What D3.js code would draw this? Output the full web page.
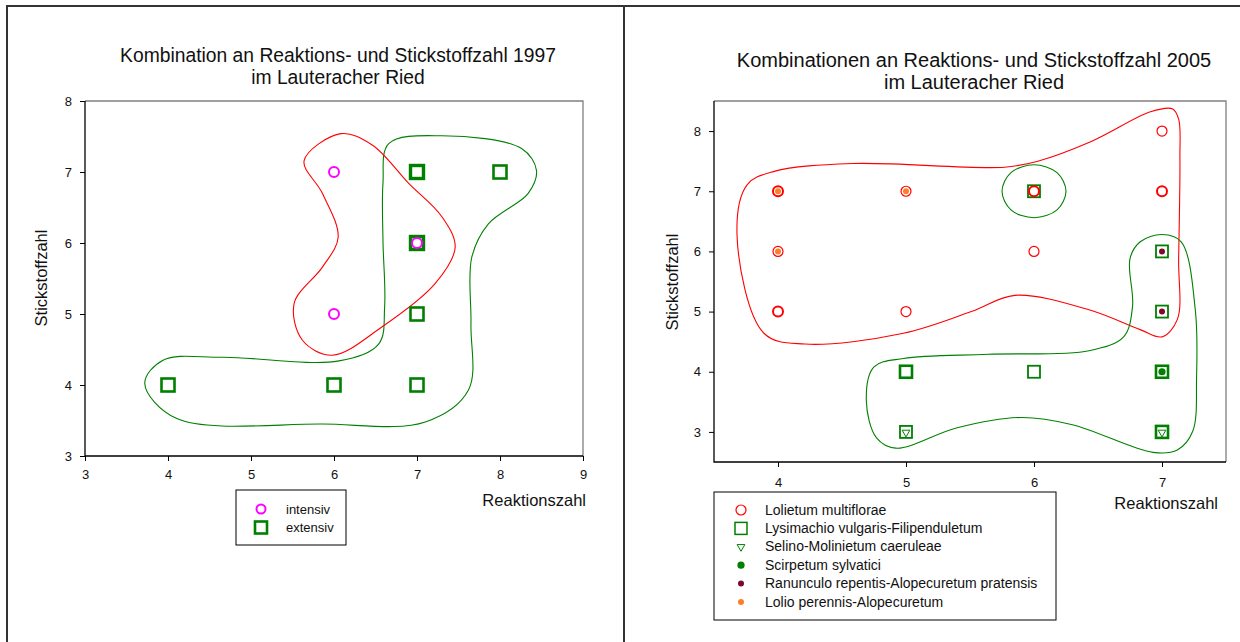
<!DOCTYPE html>
<html>
<head>
<meta charset="utf-8">
<script src="https://cdn.jsdelivr.net/npm/d3@7"></script>
<style>
  body { margin: 0; background: #fff; }
  svg { display: block; font-family: "Liberation Sans", Arial, sans-serif; }
</style>
</head>
<body>
<div id="chart"></div>
<script>
// ---- 1997 ----
var intensiv1997 = [[6, 7], [6, 5], [7, 6]];
var extensiv1997 = [[7, 7], [7, 7], [8, 7], [7, 6], [7, 6], [7, 5], [4, 4], [6, 4], [7, 4]];
var xTicks1997 = [3, 4, 5, 6, 7, 8, 9];
var yTicks1997 = [3, 4, 5, 6, 7, 8];
var legend1997 = ["intensiv", "extensiv"];
// hand-drawn outlines (data units)
var hullRed1997 = [[6.08, 7.54], [6.46, 7.38], [6.90, 6.84], [7.30, 6.37], [7.46, 5.94], [7.22, 5.43],
  [6.58, 4.82], [5.98, 4.42], [5.62, 4.63], [5.52, 5.15], [5.86, 5.66], [6.05, 6.08], [5.86, 6.70], [5.64, 7.16]];
var hullGreen1997 = [[6.66, 7.40], [7.30, 7.51], [8.26, 7.33], [8.44, 7.02], [8.34, 6.70], [7.86, 6.27],
  [7.66, 5.80], [7.65, 4.86], [7.62, 3.93], [7.10, 3.48], [5.86, 3.45], [4.10, 3.53], [3.72, 4.02],
  [3.94, 4.35], [4.66, 4.39], [6.06, 4.34], [6.54, 4.58], [6.61, 5.10], [6.59, 6.04], [6.59, 6.84]];

// ---- 2005 ----
var lolietum = [[4, 7], [4, 7], [4, 6], [4, 5], [4, 5], [5, 7], [5, 5], [6, 7], [6, 7], [6, 6], [7, 8], [7, 7], [7, 7]];
var lysimachio = [[6, 7], [7, 6], [7, 5], [5, 4], [5, 4], [6, 4], [7, 4], [7, 4], [5, 3], [7, 3], [7, 3]];
var selino = [[5, 3], [7, 3]];
var scirpetum = [[7, 4]];
var ranunculo = [[7, 6], [7, 5]];
var lolio = [[4, 7], [5, 7], [4, 6]];
var xTicks2005 = [4, 5, 6, 7];
var yTicks2005 = [3, 4, 5, 6, 7, 8];
var legend2005 = ["Lolietum multiflorae", "Lysimachio vulgaris-Filipenduletum", "Selino-Molinietum caeruleae",
  "Scirpetum sylvatici", "Ranunculo repentis-Alopecuretum pratensis", "Lolio perennis-Alopecuretum"];
var hullRed2005 = [[7.08, 8.37], [7.13, 8.20], [7.14, 7.56], [7.13, 5.88], [7.12, 4.87], [7.00, 4.58],
  [6.83, 4.70], [6.43, 5.03], [5.85, 5.27], [5.51, 5.00], [4.98, 4.64], [4.21, 4.46], [3.89, 4.64],
  [3.68, 6.27], [3.76, 7.11], [3.97, 7.33], [4.58, 7.46], [5.77, 7.40], [6.03, 7.50], [6.46, 7.84], [6.91, 8.32]];
var hullGreenSmall2005 = [[6.0, 7.44], [6.18, 7.31], [6.25, 7.0], [6.18, 6.69], [6.0, 6.56], [5.82, 6.69], [5.75, 7.0], [5.82, 7.31]];
var hullGreen2005 = [[7.00, 6.28], [7.15, 6.16], [7.26, 5.03], [7.27, 3.91], [7.24, 3.01], [7.12, 2.70],
  [6.93, 2.66], [6.30, 3.12], [5.90, 3.24], [5.40, 3.07], [4.92, 2.73], [4.77, 2.90], [4.69, 3.52],
  [4.75, 4.08], [4.98, 4.22], [5.64, 4.29], [6.43, 4.35], [6.70, 4.58], [6.77, 5.09], [6.75, 5.88], [6.83, 6.16]];

var W = 1240, H = 642;
var RED = "#ff0000", GREEN = "#008000", MAGENTA = "#ff00ff", MAROON = "#7d0a2a", ORANGE = "#ff7f27";
var FONT = "'Liberation Sans', Arial, sans-serif";

var svg = d3.select("#chart").append("svg").attr("width", W).attr("height", H);

// page frames
svg.append("path").attr("d", "M7,642 V6 H1240").attr("fill", "none").attr("stroke", "#333").attr("stroke-width", 2);
svg.append("line").attr("x1", 624).attr("x2", 624).attr("y1", 6).attr("y2", 642).attr("stroke", "#333").attr("stroke-width", 2);

// count duplicates -> heavier stroke where points coincide
function grouped(points) {
  var m = d3.rollups(points, function (v) { return v.length; }, function (d) { return d[0] + "," + d[1]; });
  return m.map(function (e) { var p = e[0].split(","); return { x: +p[0], y: +p[1], n: e[1] }; });
}

function styleAxis(a) {
  a.select(".domain").remove();
  a.selectAll(".tick line").attr("stroke", "#000");
  a.selectAll(".tick text").attr("fill", "#111").style("font-size", "13px").style("font-family", FONT);
}

function drawFrame(g, x, y, xTicks, yTicks, xPad) {
  var x0 = x.range()[0], x1 = x.range()[1], y0 = y.range()[0], y1 = y.range()[1];
  g.append("path").attr("d", "M" + x0 + "," + y1 + " H" + x1 + " V" + y0)
    .attr("fill", "none").attr("stroke", "#808080").attr("stroke-width", 1.3);
  g.append("g").attr("transform", "translate(0," + y0 + ")")
    .call(d3.axisBottom(x).tickValues(xTicks).tickFormat(d3.format("d")).tickSize(5).tickPadding(xPad))
    .call(styleAxis);
  g.append("g").attr("transform", "translate(" + x0 + ",0)")
    .call(d3.axisLeft(y).tickValues(yTicks).tickFormat(d3.format("d")).tickSize(5).tickPadding(8))
    .call(styleAxis);
  g.append("path").attr("d", "M" + x0 + "," + y1 + " V" + y0 + " H" + x1)
    .attr("fill", "none").attr("stroke", "#000").attr("stroke-width", 1.3);
}

function hull(g, x, y, pts, color) {
  var line = d3.line().x(function (d) { return x(d[0]); }).y(function (d) { return y(d[1]); })
    .curve(d3.curveCatmullRomClosed.alpha(0.5));
  g.append("path").attr("d", line(pts)).attr("fill", "none").attr("stroke", color).attr("stroke-width", 1.1);
}

function titles(g, cx, ty, lines, size) {
  lines.forEach(function (t, i) {
    g.append("text").attr("x", cx).attr("y", ty + i * 22).attr("text-anchor", "middle")
      .style("font-size", size + "px").attr("fill", "#111").text(t);
  });
}

function axisLabels(g, xx, xy, yx, yy) {
  g.append("text").attr("x", xx).attr("y", xy).attr("text-anchor", "end")
    .style("font-size", "16.5px").attr("fill", "#111").text("Reaktionszahl");
  g.append("text").attr("transform", "translate(" + yx + "," + yy + ") rotate(-90)")
    .attr("text-anchor", "middle").style("font-size", "16.5px").attr("fill", "#111").text("Stickstoffzahl");
}

function squares(g, x, y, pts, s, w) {
  g.selectAll(null).data(grouped(pts)).join("rect")
    .attr("x", function (d) { return x(d.x) - s / 2; }).attr("y", function (d) { return y(d.y) - s / 2; })
    .attr("width", s).attr("height", s).attr("fill", "none").attr("stroke", GREEN)
    .attr("stroke-width", function (d) { return d.n > 1 ? w + 0.8 : w; });
}
function circles(g, x, y, pts, r, color, w) {
  g.selectAll(null).data(grouped(pts)).join("circle")
    .attr("cx", function (d) { return x(d.x); }).attr("cy", function (d) { return y(d.y); })
    .attr("r", r).attr("fill", "none").attr("stroke", color)
    .attr("stroke-width", function (d) { return d.n > 1 ? w + 0.8 : w; });
}
function dots(g, x, y, pts, r, color) {
  g.selectAll(null).data(pts).join("circle")
    .attr("cx", function (d) { return x(d[0]); }).attr("cy", function (d) { return y(d[1]); })
    .attr("r", r).attr("fill", color);
}
var tri = d3.symbol().type(d3.symbolTriangle).size(26);
function triangles(g, x, y, pts) {
  g.selectAll(null).data(pts).join("path")
    .attr("d", tri).attr("transform", function (d) { return "translate(" + x(d[0]) + "," + (y(d[1]) + 0.5) + ") rotate(180)"; })
    .attr("fill", "none").attr("stroke", GREEN).attr("stroke-width", 1);
}

// ===== left chart 1997 =====
var gL = svg.append("g");
var xL = d3.scaleLinear().domain([3, 9]).range([85, 583]);
var yL = d3.scaleLinear().domain([3, 8]).range([456, 101]);
titles(gL, 338, 62, ["Kombination an Reaktions- und Stickstoffzahl 1997", "im Lauteracher Ried"], 19.3);
drawFrame(gL, xL, yL, xTicks1997, yTicks1997, 9);
hull(gL, xL, yL, hullGreen1997, GREEN);
hull(gL, xL, yL, hullRed1997, RED);
squares(gL, xL, yL, extensiv1997, 13, 2.6);
circles(gL, xL, yL, intensiv1997, 5, MAGENTA, 2);
axisLabels(gL, 586, 506, 47, 278);

var legL = gL.append("g");
legL.append("rect").attr("x", 236).attr("y", 490).attr("width", 110).attr("height", 55)
  .attr("fill", "#fff").attr("stroke", "#000").attr("stroke-width", 1);
legend1997.forEach(function (name, i) {
  var cy = 509 + i * 18.5;
  if (i === 0) {
    legL.append("circle").attr("cx", 261).attr("cy", cy).attr("r", 4.5).attr("fill", "none").attr("stroke", MAGENTA).attr("stroke-width", 2);
  } else {
    legL.append("rect").attr("x", 255).attr("y", cy - 6).attr("width", 12).attr("height", 12)
      .attr("fill", "none").attr("stroke", GREEN).attr("stroke-width", 2.6);
  }
  legL.append("text").attr("x", 286).attr("y", cy + 4.5).style("font-size", "13px").attr("fill", "#111").text(name);
});

// ===== right chart 2005 =====
var gR = svg.append("g");
var xR = d3.scaleLinear().domain([3.5, 7.5]).range([714, 1226]);
var yR = d3.scaleLinear().domain([2.5, 8.5]).range([462, 101]);
titles(gR, 974, 67, ["Kombinationen an Reaktions- und Stickstoffzahl 2005", "im Lauteracher Ried"], 20);
drawFrame(gR, xR, yR, xTicks2005, yTicks2005, 11);
hull(gR, xR, yR, hullRed2005, RED);
hull(gR, xR, yR, hullGreenSmall2005, GREEN);
hull(gR, xR, yR, hullGreen2005, GREEN);
squares(gR, xR, yR, lysimachio, 12, 1.8);
circles(gR, xR, yR, lolietum, 5, RED, 1.2);
triangles(gR, xR, yR, selino);
dots(gR, xR, yR, scirpetum, 3.6, GREEN);
dots(gR, xR, yR, ranunculo, 3, MAROON);
dots(gR, xR, yR, lolio, 3, ORANGE);
axisLabels(gR, 1218, 509, 678, 282);

var legR = gR.append("g");
legR.append("rect").attr("x", 714).attr("y", 492).attr("width", 342).attr("height", 128)
  .attr("fill", "#fff").attr("stroke", "#000").attr("stroke-width", 1);
legend2005.forEach(function (name, i) {
  var cy = 510 + i * 18.4, cx = 741;
  if (i === 0) legR.append("circle").attr("cx", cx).attr("cy", cy).attr("r", 5).attr("fill", "none").attr("stroke", RED).attr("stroke-width", 1.2);
  if (i === 1) legR.append("rect").attr("x", cx - 6).attr("y", cy - 6).attr("width", 12).attr("height", 12)
    .attr("fill", "none").attr("stroke", GREEN).attr("stroke-width", 1.5);
  if (i === 2) legR.append("path").attr("d", tri).attr("transform", "translate(" + cx + "," + cy + ") rotate(180)")
    .attr("fill", "none").attr("stroke", GREEN).attr("stroke-width", 1);
  if (i === 3) legR.append("circle").attr("cx", cx).attr("cy", cy).attr("r", 3.6).attr("fill", GREEN);
  if (i === 4) legR.append("circle").attr("cx", cx).attr("cy", cy).attr("r", 3).attr("fill", MAROON);
  if (i === 5) legR.append("circle").attr("cx", cx).attr("cy", cy).attr("r", 3).attr("fill", ORANGE);
  legR.append("text").attr("x", 765).attr("y", cy + 4.5).style("font-size", "14px").attr("fill", "#111").text(name);
});
</script>
</body>
</html>
